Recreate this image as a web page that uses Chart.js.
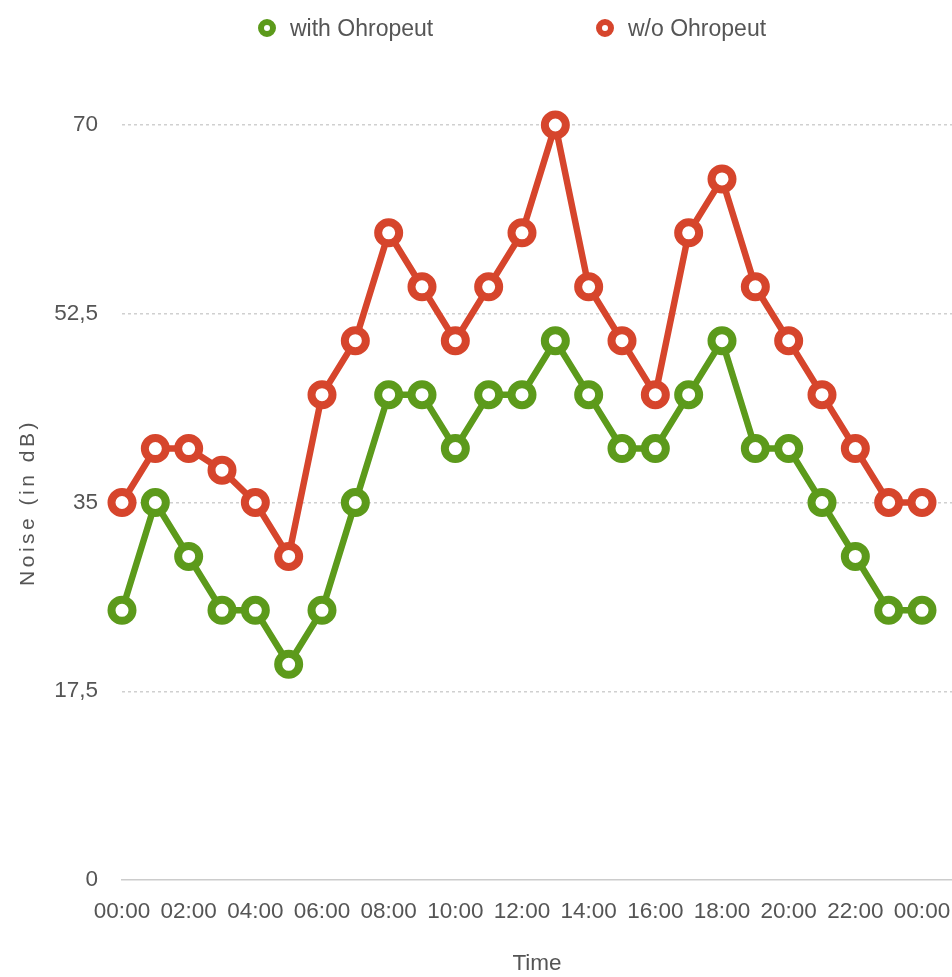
<!DOCTYPE html>
<html>
<head>
<meta charset="utf-8">
<script src="https://cdn.jsdelivr.net/npm/chart.js@4/dist/chart.umd.min.js"></script>
<style>
  html, body { margin: 0; padding: 0; background: #ffffff; }
  #wrap { position: relative; width: 952px; height: 977px; }
  #legend { position: absolute; left: 0; top: 0; width: 952px; height: 56px; font-family: "Liberation Sans", Arial, sans-serif; font-size: 23px; color: #555; }
  .item { position: absolute; top: 14px; height: 28px; line-height: 28px; white-space: nowrap; }
  .dot { position: absolute; top: 5px; width: 6px; height: 6px; border-radius: 50%; border: 6px solid; background: #fff; }
  .txt { position: absolute; left: 32px; top: 0; }
</style>
</head>
<body>
<div id="wrap">
  <canvas id="c"></canvas>
  <div id="legend"></div>
</div>
<script>
// ---- data ----
const hours = [0,1,2,3,4,5,6,7,8,9,10,11,12,13,14,15,16,17,18,19,20,21,22,23,24];
const withOhropeut = [25,35,30,25,25,20,25,35,45,45,40,45,45,50,45,40,40,45,50,40,40,35,30,25,25];
const withoutOhropeut = [35,40,40,38,35,30,45,50,60,55,50,55,60,70,55,50,45,60,65,55,50,45,40,35,35];
const xTickHours = [0,2,4,6,8,10,12,14,16,18,20,22,24];
const xTickLabels = ['00:00','02:00','04:00','06:00','08:00','10:00','12:00','14:00','16:00','18:00','20:00','22:00','00:00'];
const yTickValues = [0,17.5,35,52.5,70];
const seriesNames = ['with Ohropeut','w/o Ohropeut'];
const seriesColors = ['#5c9a1b','#d6452c'];

const FONT = '"Liberation Sans", Arial, sans-serif';
const TEXT = '#555555';

// HTML legend
const legendEl = document.getElementById('legend');
const legendPos = [258, 596];
seriesNames.forEach((name, i) => {
  const it = document.createElement('div');
  it.className = 'item';
  it.style.left = legendPos[i] + 'px';
  const d = document.createElement('span');
  d.className = 'dot';
  d.style.borderColor = seriesColors[i];
  const t = document.createElement('span');
  t.className = 'txt';
  t.textContent = name;
  it.appendChild(d); it.appendChild(t);
  legendEl.appendChild(it);
});

const spacingPlugin = {
  id: 'titleSpacing',
  beforeDraw(chart) {
    const s = chart.scales.y;
    if (s && !s._spacedTitle) {
      const orig = s.drawTitle.bind(s);
      s.drawTitle = function () {
        const c = this.ctx;
        c.save();
        c.letterSpacing = '3.5px';
        orig();
        c.restore();
      };
      s._spacedTitle = true;
    }
  }
};

function makeDataset(label, values, color) {
  return {
    label: label,
    data: hours.map((h, i) => ({ x: h, y: values[i] })),
    borderColor: color,
    backgroundColor: '#ffffff',
    borderWidth: 6.5,
    pointRadius: 10.5,
    pointHoverRadius: 10.5,
    pointBorderWidth: 8,
    pointHoverBorderWidth: 8,
    pointBackgroundColor: '#ffffff',
    pointBorderColor: color,
    tension: 0,
    clip: false
  };
}

new Chart(document.getElementById('c'), {
  type: 'line',
  data: {
    datasets: [
      makeDataset(seriesNames[0], withOhropeut, seriesColors[0]),
      makeDataset(seriesNames[1], withoutOhropeut, seriesColors[1])
    ]
  },
  options: {
    responsive: true,
    maintainAspectRatio: false,
    animation: false,
    events: [],
    layout: { autoPadding: false, padding: { top: 125, right: 0, bottom: 0, left: 0 } },
    plugins: {
      legend: { display: false },
      tooltip: { enabled: false }
    },
    scales: {
      x: {
        type: 'linear',
        min: 0,
        max: 24.9,
        afterBuildTicks: (scale) => { scale.ticks = xTickHours.map(v => ({ value: v })); },
        afterFit: (scale) => { scale.height = 97; scale.paddingRight = 0; scale.paddingLeft = 0; },
        grid: { display: false, drawTicks: false },
        border: { display: true, color: '#cccccc', width: 1.5 },
        ticks: {
          autoSkip: false,
          maxRotation: 0,
          padding: 18,
          color: TEXT,
          font: { family: FONT, size: 22.5 },
          callback: (v) => { const i = xTickHours.indexOf(v); return i >= 0 ? xTickLabels[i] : ''; }
        },
        title: {
          display: true,
          text: 'Time',
          color: TEXT,
          font: { family: FONT, size: 22.5 },
          padding: { top: 0, bottom: 0 }
        }
      },
      y: {
        min: 0,
        max: 70,
        afterBuildTicks: (scale) => { scale.ticks = yTickValues.map(v => ({ value: v })); },
        afterFit: (scale) => { scale.width = 122; },
        grid: {
          drawTicks: false,
          color: (ctx) => ctx.tick && ctx.tick.value === 0 ? 'rgba(0,0,0,0)' : '#d0d0d0',
          lineWidth: 1.5
        },
        border: { display: false, dash: [3, 3] },
        ticks: {
          padding: 24,
          color: TEXT,
          font: { family: FONT, size: 22.5 },
          callback: (v) => String(v).replace('.', ',')
        },
        title: {
          display: true,
          text: 'Noise (in dB)',
          color: TEXT,
          font: { family: FONT, size: 21 },
          padding: { top: 16, bottom: 0 }
        }
      }
    }
  },
  plugins: [spacingPlugin]
});
</script>
</body>
</html>
